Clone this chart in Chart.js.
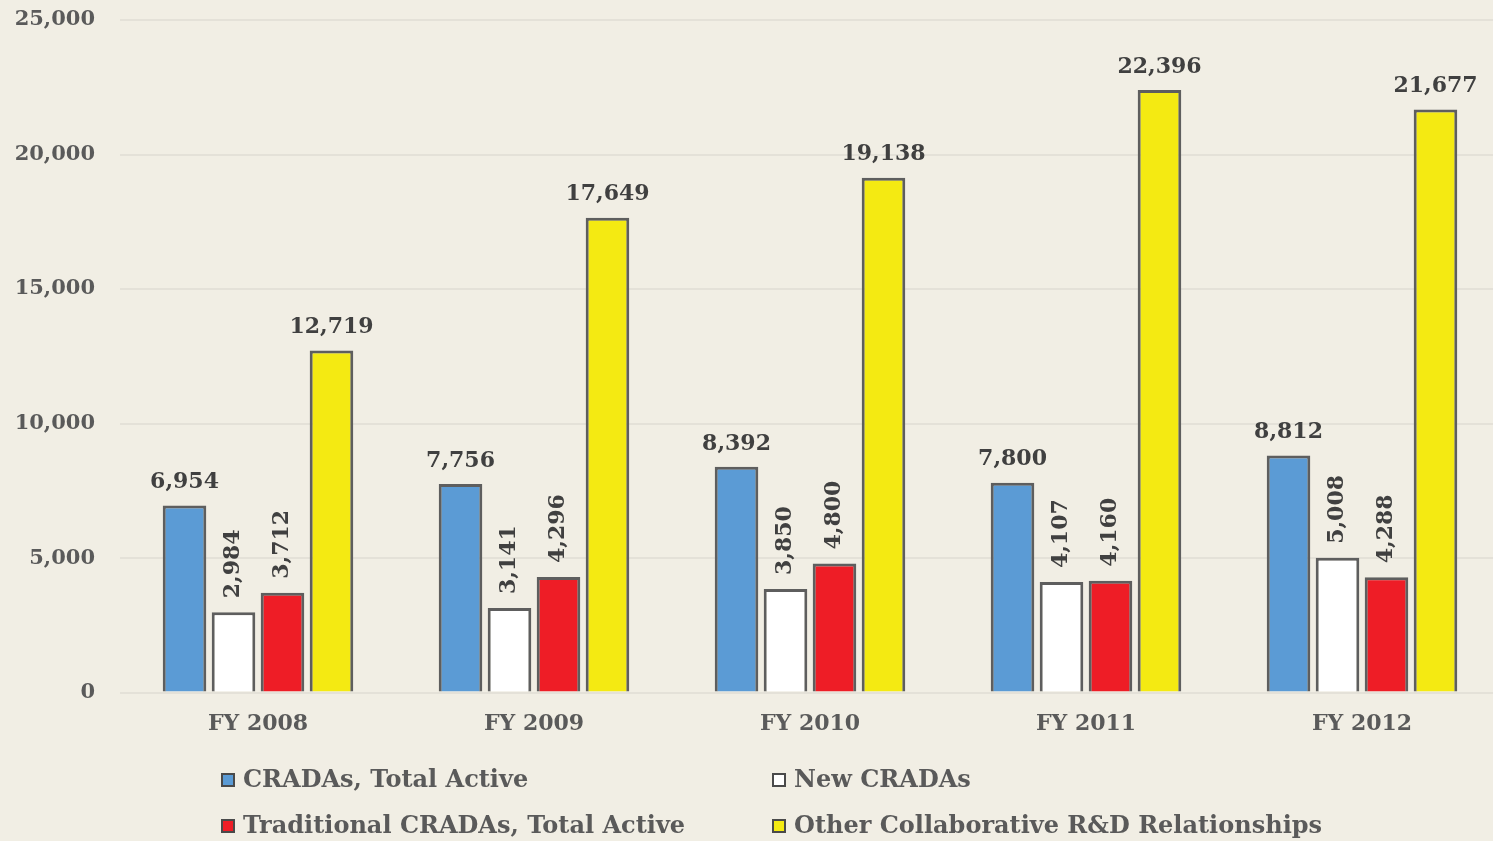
<!DOCTYPE html>
<html>
<head>
<meta charset="utf-8">
<script src="https://cdn.jsdelivr.net/npm/chart.js@4.4.1/dist/chart.umd.min.js"></script>
<style>
  html, body { margin: 0; padding: 0; background: #F1EEE4; overflow: hidden; }
  #wrap { position: relative; width: 1500px; height: 841px; }
</style>
</head>
<body>
<div id="wrap"><canvas id="grafico"></canvas></div>
<script>
// Datos
const categorias = ['FY 2008', 'FY 2009', 'FY 2010', 'FY 2011', 'FY 2012'];
const cradasTotal = [6954, 7756, 8392, 7800, 8812];
const cradasNuevos = [2984, 3141, 3850, 4107, 5008];
const tradicionales = [3712, 4296, 4800, 4160, 4288];
const otrasRelaciones = [12719, 17649, 19138, 22396, 21677];
const etiquetasY = [0, 5000, 10000, 15000, 20000, 25000];

const FUENTE = '"DejaVu Serif", serif';
const fmt = v => v.toLocaleString('en-US');

// Etiquetas de valor encima de cada barra (las de las series 1 y 2 van giradas)
const etiquetasValor = {
  id: 'etiquetasValor',
  afterDatasetsDraw(chart) {
    const ctx = chart.ctx;
    ctx.save();
    ctx.fillStyle = '#404040';
    ctx.font = 'bold 22px ' + FUENTE;
    chart.data.datasets.forEach((ds, i) => {
      const meta = chart.getDatasetMeta(i);
      meta.data.forEach((bar, j) => {
        const txt = fmt(ds.data[j]);
        if (ds.girada) {
          ctx.save();
          ctx.translate(bar.x, bar.y - 14);
          ctx.rotate(-Math.PI / 2);
          ctx.textAlign = 'left';
          ctx.textBaseline = 'middle';
          ctx.fillText(txt, 0, 0);
          ctx.restore();
        } else {
          ctx.textAlign = 'center';
          ctx.textBaseline = 'middle';
          ctx.fillText(txt, bar.x, bar.y - 23);
        }
      });
    });
    ctx.restore();
  }
};

// Leyenda en dos columnas debajo del grafico
const leyenda = {
  id: 'leyenda',
  afterDraw(chart) {
    const ctx = chart.ctx;
    const cols = [221, 772];
    const filas = [780, 826];
    ctx.save();
    ctx.font = 'bold 24px ' + FUENTE;
    ctx.textBaseline = 'middle';
    ctx.textAlign = 'left';
    chart.data.datasets.forEach((ds, i) => {
      const x = cols[i % 2];
      const y = filas[Math.floor(i / 2)];
      ctx.fillStyle = ds.backgroundColor;
      ctx.fillRect(x, y - 7, 14, 14);
      ctx.lineWidth = 2;
      ctx.strokeStyle = '#4a4a4a';
      ctx.strokeRect(x + 1, y - 6, 12, 12);
      ctx.fillStyle = '#5a5a5a';
      ctx.fillText(ds.label, x + 22, y + 1);
    });
    ctx.restore();
  }
};

const comun = { borderColor: '#5E5E5E', borderWidth: 3, barPercentage: 0.89, categoryPercentage: 0.71 };

new Chart(document.getElementById('grafico'), {
  type: 'bar',
  data: {
    labels: categorias,
    datasets: [
      { label: 'CRADAs, Total Active', data: cradasTotal, backgroundColor: '#5B9BD5', ...comun },
      { label: 'New CRADAs', data: cradasNuevos, backgroundColor: '#FFFFFF', girada: true, ...comun },
      { label: 'Traditional CRADAs, Total Active', data: tradicionales, backgroundColor: '#EE1D26', girada: true, ...comun },
      { label: 'Other Collaborative R&D Relationships', data: otrasRelaciones, backgroundColor: '#F4EA12', ...comun }
    ]
  },
  options: {
    responsive: true,
    maintainAspectRatio: false,
    animation: false,
    layout: { padding: { top: 20, bottom: 94, left: 0, right: 0 } },
    plugins: { legend: { display: false }, tooltip: { enabled: false } },
    scales: {
      x: {
        grid: { display: false },
        border: { display: false },
        ticks: { color: '#5a5a5a', font: { family: FUENTE, size: 22, weight: 'bold' }, padding: 10 }
      },
      y: {
        min: 0,
        max: 25000,
        afterFit(axis) {
          axis.width = 120;
          axis.paddingTop = 0;
          axis.paddingBottom = 0;
        },
        afterBuildTicks(axis) { axis.ticks = etiquetasY.map(v => ({ value: v })); },
        grid: { color: '#E4E1D8', lineWidth: 2, drawTicks: false },
        border: { display: false },
        ticks: {
          color: '#5a5a5a',
          padding: 25,
          font: { family: FUENTE, size: 21, weight: 'bold' },
          callback: v => fmt(v)
        }
      }
    }
  },
  plugins: [etiquetasValor, leyenda]
});
</script>
</body>
</html>
